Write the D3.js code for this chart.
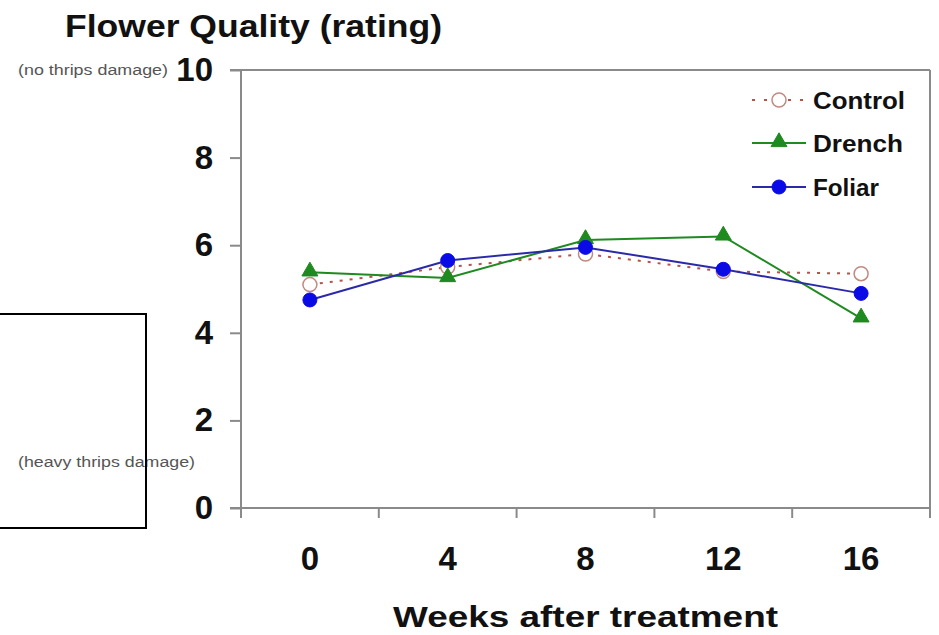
<!DOCTYPE html>
<html>
<head>
<meta charset="utf-8">
<script src="https://cdn.jsdelivr.net/npm/d3@7"></script>
<style>
  html, body { margin: 0; padding: 0; background: #fff; }
  svg { display: block; font-family: "Liberation Sans", Arial, sans-serif; }
</style>
</head>
<body>
<svg id="chart" width="939" height="635"></svg>
<script>
// Flower quality ratings over weeks after treatment
const weeks = ["0", "4", "8", "12", "16"];
const control = [5.1, 5.5, 5.8, 5.4, 5.35];
const drench = [5.38, 5.25, 6.12, 6.2, 4.33];
const foliar = [4.75, 5.65, 5.95, 5.45, 4.9];
const yTicks = [0, 2, 4, 6, 8, 10];
const seriesNames = ["Control", "Drench", "Foliar"];

const svg = d3.select("#chart");
const plot = { left: 241, right: 930, top: 70, bottom: 508 };

const x = d3.scaleBand().domain(weeks).range([plot.left, plot.right]);
const y = d3.scaleLinear().domain([0, 10]).range([plot.bottom, plot.top]);
const cx = w => x(w) + x.bandwidth() / 2;

const axisColor = "#8a8a8a";

// Plot frame: top and right edges
svg.append("line").attr("x1", plot.left - 11).attr("x2", plot.right)
  .attr("y1", plot.top).attr("y2", plot.top)
  .attr("stroke", axisColor).attr("stroke-width", 2);
svg.append("line").attr("x1", plot.right).attr("x2", plot.right)
  .attr("y1", plot.top).attr("y2", plot.bottom + 10)
  .attr("stroke", axisColor).attr("stroke-width", 2);

// Y axis
const yAxis = svg.append("g")
  .attr("transform", `translate(${plot.left},0)`)
  .call(d3.axisLeft(y).tickValues(yTicks).tickSizeInner(11).tickSizeOuter(0).tickPadding(17).tickFormat(d3.format("d")));
yAxis.select(".domain").attr("stroke", axisColor).attr("stroke-width", 2)
  .attr("d", `M0,${plot.top}V${plot.bottom + 10}`);
yAxis.selectAll(".tick line").attr("stroke", axisColor).attr("stroke-width", 2);
yAxis.selectAll(".tick text")
  .attr("font-size", 33).attr("font-weight", "bold").attr("fill", "#111")
  .attr("font-family", "'Liberation Sans', Arial, sans-serif");

// X axis: labels centred in each band, ticks on band boundaries
const xAxis = svg.append("g")
  .attr("transform", `translate(0,${plot.bottom})`)
  .call(d3.axisBottom(x).tickSizeInner(0).tickSizeOuter(0).tickPadding(39));
xAxis.select(".domain").attr("stroke", axisColor).attr("stroke-width", 2)
  .attr("d", `M${plot.left - 11},0H${plot.right}`);
xAxis.selectAll(".tick text")
  .attr("font-size", 33).attr("font-weight", "bold").attr("fill", "#111")
  .attr("font-family", "'Liberation Sans', Arial, sans-serif");
const boundaries = weeks.map(w => x(w)).concat([x.range()[1]]);
xAxis.selectAll("line.bound").data(boundaries).enter().append("line")
  .attr("class", "bound")
  .attr("x1", d => d).attr("x2", d => d).attr("y1", 0).attr("y2", 10)
  .attr("stroke", axisColor).attr("stroke-width", 2);

// Titles
svg.append("text").attr("x", 65).attr("y", 37)
  .attr("font-size", 31).attr("font-weight", "bold").attr("fill", "#111")
  .attr("textLength", 377).attr("lengthAdjust", "spacingAndGlyphs")
  .text("Flower Quality (rating)");
svg.append("text").attr("x", 393).attr("y", 627)
  .attr("font-size", 29).attr("font-weight", "bold").attr("fill", "#111")
  .attr("textLength", 385).attr("lengthAdjust", "spacingAndGlyphs")
  .text("Weeks after treatment");

// Scale annotations beside the top and bottom of the rating axis
svg.append("text").attr("x", 18).attr("y", 75)
  .attr("font-size", 14).attr("fill", "#555")
  .attr("textLength", 150).attr("lengthAdjust", "spacingAndGlyphs")
  .text("(no thrips damage)");
svg.append("text").attr("x", 18).attr("y", 467)
  .attr("font-size", 14).attr("fill", "#555")
  .attr("textLength", 177).attr("lengthAdjust", "spacingAndGlyphs")
  .text("(heavy thrips damage)");

// Series styles
const styles = {
  Control: { stroke: "#b5524a", width: 2, dash: "3,7", marker: "openCircle", fill: "#fff", mstroke: "#c08a80" },
  Drench: { stroke: "#1f8a1f", width: 2, dash: null, marker: "triangle", fill: "#1f8a1f", mstroke: "#1f8a1f" },
  Foliar: { stroke: "#2a2aa8", width: 2, dash: null, marker: "circle", fill: "#0a0ae6", mstroke: "#0a0ae6" }
};
const seriesData = { Control: control, Drench: drench, Foliar: foliar };

function drawMarker(g, type, px, py, st) {
  if (type === "triangle") {
    g.append("path")
      .attr("d", d3.symbol().type(d3.symbolTriangle).size(110)())
      .attr("transform", `translate(${px},${py - 1})`)
      .attr("fill", st.fill).attr("stroke", st.mstroke).attr("stroke-width", 1);
  } else {
    g.append("circle").attr("cx", px).attr("cy", py).attr("r", 7)
      .attr("fill", st.fill).attr("stroke", st.mstroke)
      .attr("stroke-width", type === "openCircle" ? 1.5 : 1);
  }
}

const line = d3.line().x(d => cx(d.w)).y(d => y(d.v));
seriesNames.forEach(name => {
  const st = styles[name];
  const pts = weeks.map((w, i) => ({ w, v: seriesData[name][i] }));
  const g = svg.append("g");
  g.append("path").datum(pts).attr("d", line)
    .attr("fill", "none").attr("stroke", st.stroke).attr("stroke-width", st.width)
    .attr("stroke-dasharray", st.dash);
  pts.forEach(p => drawMarker(g, st.marker, cx(p.w), y(p.v), st));
});

// Legend
const legendY = [100, 143, 187];
seriesNames.forEach((name, i) => {
  const st = styles[name];
  const g = svg.append("g");
  const ly = legendY[i];
  g.append("line").attr("x1", 752).attr("x2", 806).attr("y1", ly).attr("y2", ly)
    .attr("stroke", st.stroke).attr("stroke-width", st.width)
    .attr("stroke-dasharray", st.dash ? "3,9" : null);
  drawMarker(g, st.marker, 779, ly, st);
  g.append("text").attr("x", 813).attr("y", ly + 9)
    .attr("font-size", 24).attr("font-weight", "bold").attr("fill", "#111")
    .attr("textLength", [92, 90, 66][i]).attr("lengthAdjust", "spacingAndGlyphs")
    .text(name);
});

// Boxed region at lower left
svg.append("rect").attr("x", -2).attr("y", 314).attr("width", 148).attr("height", 214)
  .attr("fill", "none").attr("stroke", "#000").attr("stroke-width", 2);
</script>
</body>
</html>
